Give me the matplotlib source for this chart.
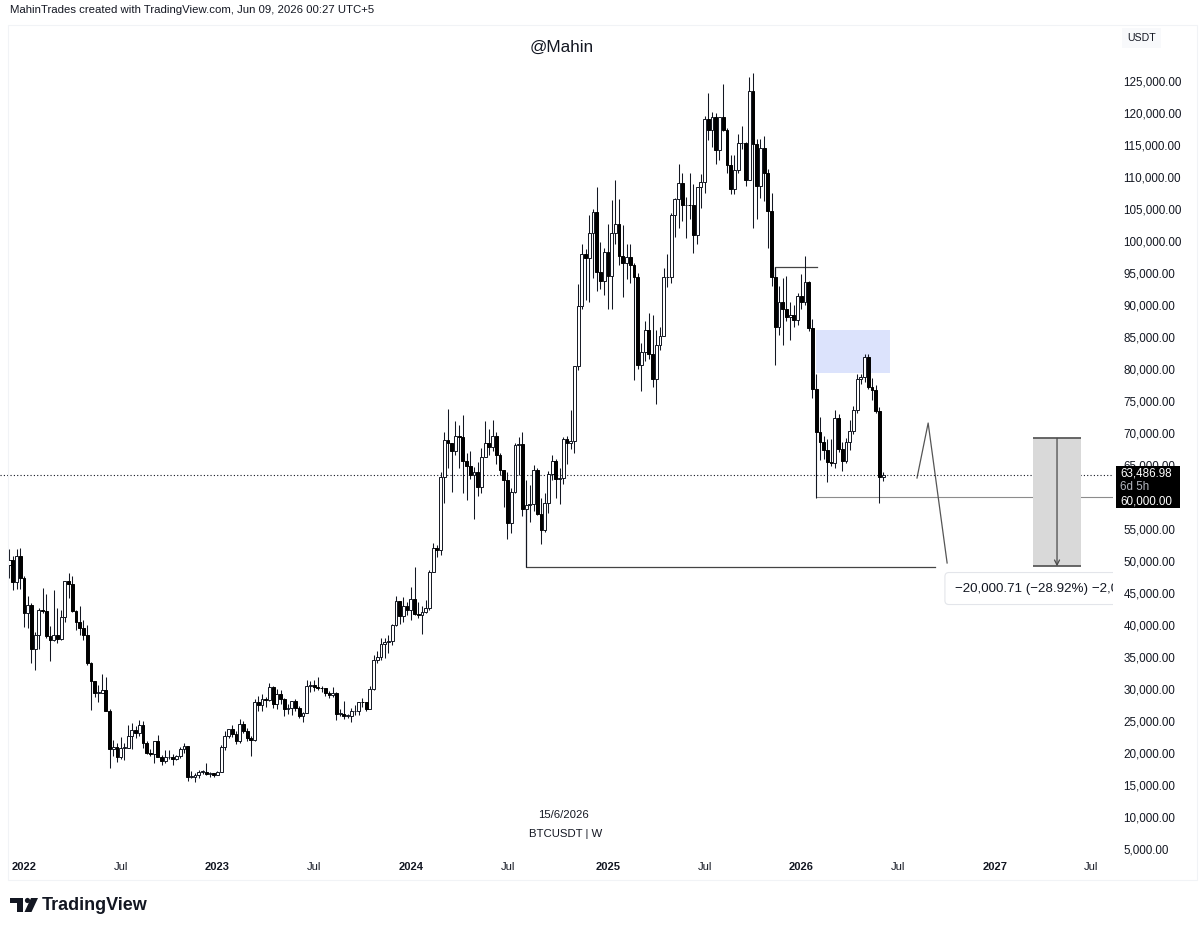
import numpy as np
import pandas as pd
import matplotlib
matplotlib.use("Agg")
import matplotlib.pyplot as plt
from matplotlib.patches import Rectangle, Polygon, Circle

plt.rcParams["font.family"] = ["Liberation Sans", "DejaVu Sans"]

# BTCUSDT weekly candles (week starts on Monday), prices in thousand USDT
FIRST_WEEK = "2021-12-06"
FIRST_OPEN = 49.4
close = [
    50.1, 46.7, 50.8, 47.3,                                                   # 2021
    41.9, 43.1, 36.3, 38.5, 42.4, 42.2, 38.3, 37.7, 38.4, 37.8, 41.3, 46.8, 46.4,  # 2022
    42.2, 40.4, 39.5, 38.5, 34.1, 31.3, 29.4, 29.4, 29.9, 26.6, 20.6, 21.0, 19.3,
    20.8, 20.8, 22.6, 23.6, 23.2, 24.3, 21.5, 20.0, 19.8, 21.8, 19.4, 18.8, 19.3,
    19.4, 19.1, 19.6, 20.6, 21.1, 16.3, 16.3, 16.5, 17.1, 17.1, 16.7, 16.8, 16.6,
    17.1, 20.9, 22.7, 23.7, 22.9, 21.8, 24.6, 23.5, 22.4, 22.1, 28.0, 27.5, 28.5,  # 2023
    28.3, 30.3, 27.6, 29.2, 28.4, 26.9, 27.1, 28.1, 27.1, 25.8, 26.3, 30.5, 30.6,
    30.3, 30.2, 30.1, 29.3, 29.1, 29.3, 26.1, 26.1, 25.8, 25.8, 26.5, 26.5, 28.0,
    27.9, 26.9, 30.0, 34.5, 35.0, 37.1, 37.4, 37.5, 40.0, 43.8, 41.4, 43.0, 42.3,
    44.0, 41.7, 41.6, 42.0, 42.6, 48.3, 52.1, 51.7, 63.1, 68.9, 68.4, 67.2, 69.6,  # 2024
    69.4, 65.7, 64.9, 63.4, 63.9, 61.5, 66.3, 68.5, 67.8, 69.6, 66.6, 64.2, 62.7,
    55.9, 60.8, 68.2, 68.3, 58.1, 58.7, 58.9, 64.2, 57.3, 54.9, 59.1, 63.6, 65.6,
    62.8, 62.9, 69.0, 68.4, 68.8, 80.4, 89.9, 97.9, 97.3, 101.2, 104.5, 95.2, 93.7, 98.3,
    94.5, 101.3, 102.6, 97.7, 96.5, 97.5, 96.3, 94.3, 80.7, 82.6, 86.1, 82.4, 78.4,  # 2025
    83.8, 85.2, 94.3, 94.3, 104.1, 106.5, 109.0, 105.6, 105.7, 105.6, 101.0, 108.4, 109.2,
    119.1, 117.3, 119.4, 114.2, 119.3, 117.4, 111.8, 108.2, 111.1, 115.3, 115.3, 109.6, 123.5,
    115.1, 108.6, 114.5, 110.6, 104.7, 94.3, 86.6, 90.4, 89.4, 88.2, 88.4, 87.7, 91.4,
    90.5, 93.6, 86.4, 76.9, 70.2, 68.6, 67.3, 65.5, 65.3, 72.4, 67.5, 65.7, 68.6,  # 2026
    70.3, 73.6, 78.5, 78.7, 81.9, 77.2, 76.7, 73.5, 63.1, 63.487,
]
high = [
    51.9, 50.8, 51.9, 52.1,
    47.6, 44.5, 43.5, 38.9, 42.7, 45.8, 44.8, 39.8, 45.4, 42.6, 42.3, 46.9, 48.2,
    47.7, 42.4, 42.9, 40.8, 40.0, 34.2, 30.7, 30.6, 32.4, 31.8, 26.9, 22.0, 21.5,
    22.5, 21.6, 24.3, 24.7, 24.2, 25.2, 25.0, 21.8, 20.6, 21.9, 22.8, 19.7, 20.4,
    20.5, 19.9, 19.7, 21.0, 21.5, 21.0, 17.2, 16.8, 17.4, 17.4, 18.4, 17.1, 16.9,
    17.2, 21.3, 23.4, 23.8, 24.3, 23.4, 25.3, 25.0, 23.9, 22.6, 28.4, 28.9, 29.2,
    28.8, 31.0, 30.5, 30.0, 29.8, 28.6, 27.7, 28.2, 28.5, 27.4, 26.4, 31.4, 31.3,
    31.4, 31.8, 30.4, 30.1, 29.7, 30.3, 29.6, 26.8, 28.1, 26.1, 27.0, 27.5, 28.0,
    28.6, 28.0, 30.4, 35.3, 35.9, 38.0, 37.9, 38.4, 40.2, 44.5, 43.5, 44.3, 43.6,
    45.9, 49.0, 43.6, 42.9, 43.9, 48.6, 52.8, 52.5, 63.9, 70.1, 73.8, 68.2, 71.8,
    71.3, 72.8, 66.9, 67.2, 64.7, 65.5, 67.7, 71.9, 70.6, 72.0, 70.2, 66.9, 64.2,
    63.9, 61.4, 68.4, 69.4, 70.1, 62.7, 61.8, 65.0, 64.5, 59.8, 60.7, 64.1, 66.5,
    66.0, 64.5, 69.4, 69.5, 73.6, 80.4, 93.3, 99.6, 98.8, 104.0, 105.0, 108.4, 99.9, 98.9,
    102.7, 106.4, 109.6, 106.5, 102.5, 99.5, 99.5, 96.5, 95.0, 84.0, 87.5, 88.8, 88.5,
    86.1, 86.5, 95.8, 97.9, 104.4, 106.7, 112.0, 110.7, 106.8, 110.6, 108.9, 108.5, 110.5,
    119.5, 123.2, 120.2, 120.0, 119.3, 124.5, 117.6, 113.5, 113.4, 116.7, 117.9, 115.4, 125.7,
    126.2, 115.9, 116.0, 116.4, 111.2, 107.5, 96.0, 93.0, 94.2, 94.6, 90.4, 90.0, 91.8,
    94.8, 97.6, 93.7, 87.8, 79.2, 72.5, 69.5, 69.1, 69.1, 73.6, 73.0, 68.6, 69.2,
    72.0, 74.2, 79.2, 79.2, 82.4, 82.3, 78.6, 77.5, 74.0, 63.9,
]
low = [
    47.3, 45.5, 45.6, 45.7,
    39.7, 39.6, 34.0, 32.9, 36.3, 41.8, 38.0, 34.3, 37.5, 37.2, 37.6, 40.5, 44.2,
    42.1, 39.2, 38.5, 37.7, 33.7, 26.7, 28.7, 28.0, 29.3, 26.6, 17.6, 19.6, 18.6,
    19.0, 18.9, 20.8, 20.7, 22.4, 22.7, 20.8, 19.8, 19.6, 18.5, 19.3, 18.1, 18.5,
    19.1, 18.2, 18.9, 19.2, 20.0, 15.6, 16.1, 15.5, 16.1, 16.7, 16.5, 16.3, 16.3,
    16.5, 17.1, 20.4, 22.3, 22.5, 21.4, 21.5, 23.1, 21.9, 19.6, 21.9, 26.6, 26.5,
    27.2, 28.2, 27.1, 26.9, 27.7, 25.8, 26.1, 25.9, 26.6, 25.4, 24.8, 26.3, 29.5,
    29.7, 29.9, 29.5, 28.9, 28.6, 28.7, 25.2, 25.8, 25.3, 25.4, 24.9, 26.0, 26.0,
    27.2, 26.5, 26.8, 29.9, 34.1, 34.5, 34.8, 35.6, 36.9, 39.9, 40.2, 40.5, 41.5,
    40.8, 41.5, 41.1, 38.6, 41.9, 42.3, 48.3, 50.6, 50.9, 59.0, 64.5, 60.8, 66.5,
    64.5, 60.7, 59.6, 62.8, 56.6, 60.2, 60.6, 66.3, 66.6, 67.2, 65.1, 63.4, 58.4,
    53.5, 54.3, 60.6, 63.5, 57.1, 49.0, 56.1, 57.8, 57.2, 52.6, 54.6, 57.5, 62.6,
    59.8, 58.9, 62.0, 65.1, 67.5, 66.8, 79.9, 89.4, 90.8, 90.5, 94.2, 92.2, 92.5, 91.5,
    89.3, 89.3, 99.5, 96.2, 91.2, 94.0, 93.4, 78.3, 80.0, 76.6, 81.2, 81.6, 77.2,
    74.5, 83.0, 85.1, 92.8, 93.4, 100.7, 102.0, 103.1, 100.4, 103.4, 98.2, 99.6, 105.1,
    107.5, 115.8, 114.7, 112.0, 112.7, 117.2, 110.6, 107.3, 107.3, 110.6, 114.4, 108.6, 109.5,
    102.0, 103.5, 106.7, 106.3, 98.9, 93.0, 80.6, 85.3, 83.8, 87.5, 84.5, 86.5, 86.8,
    89.3, 90.0, 86.0, 75.5, 59.8, 65.8, 66.0, 62.3, 64.9, 64.5, 67.0, 64.0, 65.3,
    67.3, 69.8, 73.2, 77.6, 78.0, 76.8, 75.2, 73.2, 59.0, 62.5,
]
LAST_PRICE = 63486.98

# x-axis labels (first weekly bar of each half year)
tick_weeks = ["2022-01-03", "2022-07-04", "2023-01-02", "2023-07-03", "2024-01-01", "2024-07-01",
              "2025-01-06", "2025-07-07", "2026-01-05", "2026-07-06", "2027-01-04", "2027-07-05"]
tick_names = ["2022", "Jul", "2023", "Jul", "2024", "Jul", "2025", "Jul", "2026", "Jul", "2027", "Jul"]
price_ticks = [p for p in range(5000, 125001, 5000) if p != 60000]

# drawings on the chart (week index from 2022-01-03, price)
ZONE = (213.0, 232.9, 79400, 86100)
TOP_LINE = (202.0, 213.2, 95900, 93100)
LOW_LINE = (135.0, 245.0, 49000, 58400)
SUPPORT = (213.0, 60000, 77000)
PATH_X = [240.1, 243.1, 248.2]
PATH_Y = [62970, 71560, 49690]
MEASURE = (271.3, 284.2, 49158.29, 69159.00)
# the label runs into the price scale, only this part of it shows
MEASURE_TEXT = "\u221220,000.71 (\u221228.92%) \u22122,0"

INK = "#131722"

origin = pd.Timestamp("2022-01-03")
weeks = pd.date_range(FIRST_WEEK, periods=len(close), freq="7D")
x = ((weeks - origin).days / 7).to_numpy()
c = np.array(close) * 1000
h = np.array(high) * 1000
l = np.array(low) * 1000
o = np.concatenate([[FIRST_OPEN * 1000], c[:-1]])

fig = plt.figure(figsize=(12, 9.32), dpi=100)
ax = fig.add_axes([0, 1 - 855 / 932, 1113 / 1200, 830 / 932])
ax.set_xlim(-6.45, 292.8)
ax.set_ylim(4062.5, 133750)

# candles
up = c >= o
body_lo = np.minimum(o, c)
body_h = np.maximum(np.abs(c - o), 90)
ax.vlines(x, l, h, color=INK, lw=0.75, zorder=3)
ax.bar(x[up], body_h[up], bottom=body_lo[up], width=0.76, facecolor="white",
       edgecolor=INK, linewidth=0.7, zorder=4)
ax.bar(x[~up], body_h[~up], bottom=body_lo[~up], width=0.76, facecolor="#000000",
       edgecolor="#000000", linewidth=0.7, zorder=4)

# supply zone
ax.add_patch(Rectangle((ZONE[0], ZONE[2]), ZONE[1] - ZONE[0], ZONE[3] - ZONE[2],
                       facecolor="#dce3fc", edgecolor="none", zorder=1))

# horizontal levels
ax.plot([TOP_LINE[0], TOP_LINE[0], TOP_LINE[1]], [TOP_LINE[3], TOP_LINE[2], TOP_LINE[2]],
        color="#444444", lw=0.9, zorder=2)
ax.plot([LOW_LINE[0], LOW_LINE[0], LOW_LINE[1]], [LOW_LINE[3], LOW_LINE[2], LOW_LINE[2]],
        color="#444444", lw=0.9, zorder=2)
ax.plot([SUPPORT[0], SUPPORT[0], 292.8], [SUPPORT[2], SUPPORT[1], SUPPORT[1]],
        color="#8c8c8c", lw=0.8, zorder=2)
ax.plot(PATH_X, PATH_Y, color="#555555", lw=0.9, zorder=2)

# current price line
ax.axhline(LAST_PRICE, color=INK, lw=0.8, ls=(0, (1, 2)), zorder=2)

# measure tool
mx0, mx1, my0, my1 = MEASURE
ax.add_patch(Rectangle((mx0, my0), mx1 - mx0, my1 - my0, facecolor="#d9d9d9",
                       edgecolor="none", zorder=2))
ax.hlines([my0, my1], mx0, mx1, color="#5a5a5a", lw=1.3, zorder=3)
ax.annotate("", xy=((mx0 + mx1) / 2, my0), xytext=((mx0 + mx1) / 2, my1),
            arrowprops=dict(arrowstyle="->", color="#4a4a4a", lw=0.9,
                            shrinkA=0, shrinkB=0, mutation_scale=9), zorder=3)
ax.text(250.3, 45700, MEASURE_TEXT, fontsize=9.6, color=INK, va="center", ha="left",
        clip_on=True, zorder=6,
        bbox=dict(boxstyle="round,pad=0.75,rounding_size=0.3", facecolor="white",
                  edgecolor="#e3e5ea", linewidth=0.8))

# axes styling
for s in ax.spines.values():
    s.set_visible(False)
ax.set_xticks([(pd.Timestamp(d) - origin).days / 7 for d in tick_weeks])
ax.set_xticklabels(tick_names)
for lbl in ax.get_xticklabels():
    if lbl.get_text() != "Jul":
        lbl.set_fontweight("bold")
ax.tick_params(axis="x", length=0, pad=5, labelsize=8, labelcolor=INK)
ax.set_yticks(price_ticks)
ax.set_yticklabels([f"{p:,.2f}" for p in price_ticks])
ax.yaxis.tick_right()
ax.tick_params(axis="y", length=0, pad=7.5, labelsize=8.4, labelcolor=INK)

# overlay in pixel coordinates for the frame decorations
ov = fig.add_axes([0, 0, 1, 1], zorder=5)
ov.set_xlim(0, 1200)
ov.set_ylim(932, 0)
ov.axis("off")
ov.patch.set_alpha(0)

ov.add_patch(Rectangle((8, 25), 1189, 855, facecolor="none", edgecolor="#f1f3f6", lw=0.8))
ov.text(10, 10, "MahinTrades created with TradingView.com, Jun 09, 2026 00:27 UTC+5",
        fontsize=8.2, color=INK, va="center", ha="left")
ov.text(562, 47, "@Mahin", fontsize=12.3, color=INK, va="center", ha="center")
ov.text(563, 815, "15/6/2026", fontsize=8.2, color=INK, va="center", ha="center")
ov.text(566, 834, "BTCUSDT | W", fontsize=8.2, color=INK, va="center", ha="center")
ov.text(1127, 38, "USDT", fontsize=7.6, color=INK, va="center", ha="left",
        bbox=dict(boxstyle="square,pad=0.5", facecolor="#f8f9fb", edgecolor="none"))

# last price badge
ov.add_patch(Rectangle((1116, 466), 64, 42, facecolor="#000000", edgecolor="none"))
ov.text(1120, 474, f"{LAST_PRICE:,.2f}", fontsize=8.4, color="white", va="center", ha="left")
ov.text(1120, 487, "6d 5h", fontsize=8.4, color="#b2b5be", va="center", ha="left")
ov.text(1120, 501, f"{60000:,.2f}", fontsize=8.4, color="white", va="center", ha="left")

# TradingView logo
ov.add_patch(Polygon([(10, 898), (23, 898), (23, 912), (17, 912), (17, 903), (10, 903)],
                     closed=True, facecolor=INK, edgecolor="none"))
ov.add_patch(Circle((27.5, 900.5), 2.6, facecolor=INK, edgecolor="none"))
ov.add_patch(Polygon([(31, 898), (38, 898), (31.5, 912), (24.5, 912)],
                     closed=True, facecolor=INK, edgecolor="none"))
ov.text(42, 905, "TradingView", fontsize=13, fontweight="bold", color=INK,
        va="center", ha="left")

fig.savefig("out.png", dpi=100, facecolor="white")
